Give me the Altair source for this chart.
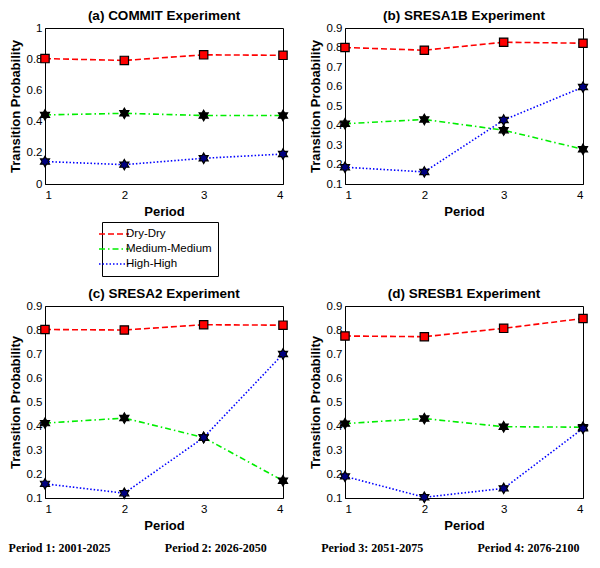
import altair as alt
import pandas as pd

periods = [1, 2, 3, 4]
series = ["Dry-Dry", "Medium-Medium", "High-High"]
marker_kinds = ["square", "asterisk", "hexagram"]
experiments = ["COMMIT", "SRESA1B", "SRESA2", "SRESB1"]
letters = ["(a)", "(b)", "(c)", "(d)"]

commit_dry = [0.804, 0.792, 0.828, 0.825]
commit_med = [0.443, 0.453, 0.439, 0.439]
commit_high = [0.144, 0.124, 0.165, 0.192]

sresa1b_dry = [0.800, 0.786, 0.827, 0.822]
sresa1b_med = [0.409, 0.431, 0.376, 0.278]
sresa1b_high = [0.186, 0.162, 0.428, 0.597]

sresa2_dry = [0.802, 0.800, 0.822, 0.820]
sresa2_med = [0.412, 0.433, 0.352, 0.172]
sresa2_high = [0.159, 0.120, 0.352, 0.700]

sresb1_dry = [0.775, 0.772, 0.807, 0.848]
sresb1_med = [0.410, 0.431, 0.397, 0.395]
sresb1_high = [0.190, 0.103, 0.140, 0.390]

footer_labels = ["Period 1: 2001-2025", "Period 2: 2026-2050",
                 "Period 3: 2051-2075", "Period 4: 2076-2100"]

y_ticks_a = [0, 0.2, 0.4, 0.6, 0.8, 1.0]
y_ticks_b = [0.1, 0.2, 0.3, 0.4, 0.5, 0.6, 0.7, 0.8, 0.9]

line_colors = ["#ff0000", "#00ee00", "#0000ff"]
marker_fills = ["#ff0000", "#000000", "#000080"]
dashes = [[6, 3], [6, 3, 1.5, 3], [1.5, 2]]

HEX = ("M0,-1.25L0.36,-0.625L1.08,-0.625L0.72,0L1.08,0.625L0.36,0.625"
       "L0,1.25L-0.36,0.625L-1.08,0.625L-0.72,0L-1.08,-0.625L-0.36,-0.625Z")

FONT = "Liberation Sans"


def make_df(dry, med, high):
    rows = []
    for name, mk, vals in zip(series, marker_kinds, [dry, med, high]):
        for p, v in zip(periods, vals):
            rows.append({"Period": p, "Probability": v, "Series": name,
                         "Marker": mk})
    return pd.DataFrame(rows)


legend_def = alt.Legend(
    title=None, orient="none", legendX=57, legendY=194,
    strokeColor="black", fillColor="white", padding=6,
    symbolType="M-3,0L3,0", symbolSize=100, symbolStrokeWidth=1.6,
    labelFont=FONT, labelFontSize=11.5, labelColor="black",
    rowPadding=3, labelOffset=6,
)


def panel(df, letter, exp, ydomain, yticks, w, h):
    base = alt.Chart(df).encode(
        x=alt.X("Period:Q",
                scale=alt.Scale(domain=[1, 4], nice=False, zero=False),
                axis=alt.Axis(values=periods, format="d", title="Period",
                              grid=False, ticks=False, labelPadding=5,
                              titlePadding=5)),
        y=alt.Y("Probability:Q",
                scale=alt.Scale(domain=ydomain, nice=False, zero=False),
                axis=alt.Axis(values=yticks, format="~g",
                              title="Transition Probability",
                              grid=False, ticks=False, labelPadding=3,
                              titlePadding=4)),
    )
    lines = base.mark_line(strokeWidth=1.6).encode(
        color=alt.Color("Series:N",
                        scale=alt.Scale(domain=series, range=line_colors),
                        legend=legend_def),
        strokeDash=alt.StrokeDash("Series:N",
                                  scale=alt.Scale(domain=series, range=dashes),
                                  legend=legend_def),
    )
    points = base.mark_point(filled=True, stroke="black", strokeWidth=1.2,
                             opacity=1, size=70).encode(
        shape=alt.Shape("Marker:N",
                        scale=alt.Scale(domain=marker_kinds,
                                        range=["square", HEX, HEX]),
                        legend=None),
        fill=alt.Fill("Marker:N",
                      scale=alt.Scale(domain=marker_kinds, range=marker_fills),
                      legend=None),
    )
    return alt.layer(lines, points).properties(
        width=w, height=h,
        title=alt.TitleParams(text=f"{letter}  {exp} Experiment",
                              font=FONT, fontSize=13.5, fontWeight="bold",
                              offset=0, color="black"),
        view=alt.ViewBackground(stroke="black", strokeWidth=1),
    )


pa = panel(make_df(commit_dry, commit_med, commit_high), letters[0],
           experiments[0], [0, 1], y_ticks_a, 238, 156)
pb = panel(make_df(sresa1b_dry, sresa1b_med, sresa1b_high), letters[1],
           experiments[1], [0.1, 0.9], y_ticks_b, 238, 156)
pc = panel(make_df(sresa2_dry, sresa2_med, sresa2_high), letters[2],
           experiments[2], [0.1, 0.9], y_ticks_b, 238, 192)
pd_ = panel(make_df(sresb1_dry, sresb1_med, sresb1_high), letters[3],
            experiments[3], [0.1, 0.9], y_ticks_b, 238, 192)

footer = alt.Chart(pd.DataFrame({"label": footer_labels})).mark_text(
    font="Liberation Serif", fontWeight="bold", fontSize=12, color="black",
).encode(
    x=alt.X("label:N", sort=None,
            scale=alt.Scale(type="point", padding=0.093), axis=None),
    text="label:N",
).properties(width=498, height=16)

grid = alt.concat(pa, pb, pc, pd_, columns=2,
                  spacing={"row": 122, "column": 62}, bounds="flush")

chart = alt.vconcat(grid, footer, spacing=6).resolve_scale(
    color="shared", strokeDash="shared"
).resolve_legend(
    color="shared", strokeDash="shared"
).properties(
    padding=0, background="white"
).configure_view(
    stroke="transparent"
).configure_axis(
    labelFont=FONT, labelFontSize=11.5, labelColor="black",
    titleFont=FONT, titleFontSize=13, titleFontWeight="bold",
    titleColor="black", domainColor="black", domainWidth=1,
)

chart.save("out.html", embed_options={"renderer": "svg", "actions": False})
